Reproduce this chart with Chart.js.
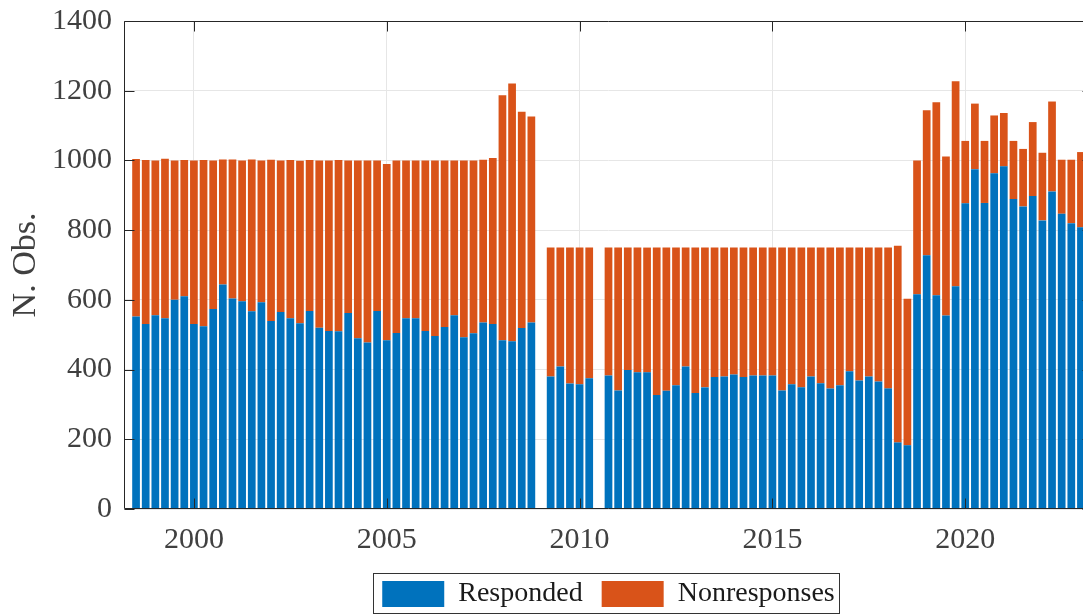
<!DOCTYPE html>
<html>
<head>
<meta charset="utf-8">
<script src="https://cdn.jsdelivr.net/npm/chart.js@4/dist/chart.umd.min.js"></script>
<style>
  html, body { margin: 0; padding: 0; overflow: hidden; background: #ffffff; }
  #wrap { width: 1093px; height: 618px; position: relative; }
</style>
</head>
<body>
<div id="wrap"><canvas id="c"></canvas></div>
<script>
// ---------------- data ----------------
const quarters = [
  '1998Q3','1998Q4',
  '1999Q1','1999Q2','1999Q3','1999Q4',
  '2000Q1','2000Q2','2000Q3','2000Q4',
  '2001Q1','2001Q2','2001Q3','2001Q4',
  '2002Q1','2002Q2','2002Q3','2002Q4',
  '2003Q1','2003Q2','2003Q3','2003Q4',
  '2004Q1','2004Q2','2004Q3','2004Q4',
  '2005Q1','2005Q2','2005Q3','2005Q4',
  '2006Q1','2006Q2','2006Q3','2006Q4',
  '2007Q1','2007Q2','2007Q3','2007Q4',
  '2008Q1','2008Q2','2008Q3','2008Q4',
  '2009Q1','2009Q2','2009Q3','2009Q4',
  '2010Q1','2010Q2','2010Q3','2010Q4',
  '2011Q1','2011Q2','2011Q3','2011Q4',
  '2012Q1','2012Q2','2012Q3','2012Q4',
  '2013Q1','2013Q2','2013Q3','2013Q4',
  '2014Q1','2014Q2','2014Q3','2014Q4',
  '2015Q1','2015Q2','2015Q3','2015Q4',
  '2016Q1','2016Q2','2016Q3','2016Q4',
  '2017Q1','2017Q2','2017Q3','2017Q4',
  '2018Q1','2018Q2','2018Q3','2018Q4',
  '2019Q1','2019Q2','2019Q3','2019Q4',
  '2020Q1','2020Q2','2020Q3','2020Q4',
  '2021Q1','2021Q2','2021Q3','2021Q4',
  '2022Q1','2022Q2','2022Q3','2022Q4',
  '2023Q1'
];

const responded = [
  552, 531,
  556, 547, 600, 610,
  531, 524, 574, 644,
  604, 596, 567, 593,
  539, 565, 547, 533,
  568, 520, 511, 510,
  562, 490, 478, 568,
  484, 505, 547, 547,
  511, 496, 522, 556,
  493, 504, 535, 531,
  484, 481, 519, 535,
  null, 380, 409, 360,
  358, 375, null, 383,
  340, 399, 392, 392,
  327, 339, 355, 409,
  333, 349, 379, 380,
  386, 379, 383, 383,
  383, 340, 358, 349,
  380, 361, 346, 355,
  395, 369, 380, 366,
  346, 191, 183, 616,
  728, 613, 555, 639,
  877, 975, 878, 963,
  983, 889, 868, 898,
  828, 911, 847, 820,
  808
];

const nonresponses = [
  452, 470,
  444, 458, 400, 391,
  469, 477, 426, 359,
  399, 404, 436, 407,
  463, 435, 454, 466,
  433, 480, 489, 491,
  438, 510, 522, 432,
  506, 495, 453, 453,
  489, 504, 478, 444,
  507, 496, 467, 476,
  703, 740, 621, 591,
  null, 370, 341, 390,
  392, 375, null, 367,
  410, 351, 358, 358,
  423, 411, 395, 341,
  417, 401, 371, 370,
  364, 371, 367, 367,
  367, 410, 392, 401,
  370, 389, 404, 395,
  355, 381, 370, 384,
  404, 564, 420, 384,
  416, 554, 456, 588,
  179, 188, 178, 166,
  153, 167, 165, 212,
  194, 258, 155, 182,
  216
];

const seriesNames = ['Responded', 'Nonresponses'];
const xTickYears = [2000, 2005, 2010, 2015, 2020];
const yTickValues = [0, 200, 400, 600, 800, 1000, 1200, 1400];
const yTitle = 'N. Obs.';

// ---------------- helpers ----------------
function quarterToYear(q) {
  const parts = q.split('Q');
  return Number(parts[0]) + (Number(parts[1]) - 1) / 4;
}
const xs = quarters.map(quarterToYear);

const FONT = "'Liberation Serif', 'Times New Roman', serif";
const AXIS = '#262626';
const TICKTXT = '#404040';
const GRID = '#e6e6e6';
const BLUE = '#0072BD';
const ORANGE = '#D95319';

// axes box + inward ticks + legend border (MATLAB look)
const boxPlugin = {
  id: 'matlabBox',
  afterDraw(chart) {
    const { ctx, chartArea: a, scales } = chart;
    const xS = scales.x, yS = scales.y;
    const L = Math.round(a.left) + 0.5, R = Math.round(a.right) - 0.5;
    const T = Math.round(a.top) + 0.5, B = Math.round(a.bottom) - 0.5;
    const tl = 10;
    ctx.save();
    ctx.strokeStyle = AXIS;
    ctx.lineWidth = 1;
    ctx.beginPath();
    ctx.moveTo(L, T); ctx.lineTo(R, T); ctx.lineTo(R, B); ctx.lineTo(L, B); ctx.closePath();
    xS.ticks.forEach(t => {
      const px = Math.round(xS.getPixelForValue(t.value)) + 0.5;
      ctx.moveTo(px, B); ctx.lineTo(px, B - tl);
      ctx.moveTo(px, T); ctx.lineTo(px, T + tl);
    });
    yS.ticks.forEach(t => {
      const py = Math.round(yS.getPixelForValue(t.value)) + 0.5;
      ctx.moveTo(L, py); ctx.lineTo(L + tl, py);
      ctx.moveTo(R, py); ctx.lineTo(R - tl, py);
    });
    ctx.stroke();

    // legend frame
    const lg = chart.legend;
    if (lg && lg.legendHitBoxes && lg.legendHitBoxes.length) {
      const hb = lg.legendHitBoxes;
      const left = Math.min(...hb.map(h => h.left));
      const right = Math.max(...hb.map(h => h.left + h.width));
      const top = Math.min(...hb.map(h => h.top));
      const bottom = Math.max(...hb.map(h => h.top + h.height));
      ctx.strokeStyle = '#333333';
      ctx.lineWidth = 1;
      ctx.strokeRect(Math.round(left - 9) + 0.5, Math.round(top - 7) + 0.5,
                     Math.round(right - left + 13), Math.round(bottom - top + 12));
    }
    ctx.restore();
  }
};

const ctx = document.getElementById('c').getContext('2d');
new Chart(ctx, {
  type: 'bar',
  data: {
    datasets: [
      {
        label: seriesNames[0],
        data: xs.map((x, i) => ({ x: x, y: responded[i] })),
        backgroundColor: BLUE,
        borderWidth: 0,
        stack: 'obs',
        barPercentage: 0.8,
        categoryPercentage: 1.0
      },
      {
        label: seriesNames[1],
        data: xs.map((x, i) => ({ x: x, y: nonresponses[i] })),
        backgroundColor: ORANGE,
        borderWidth: 0,
        stack: 'obs',
        barPercentage: 0.8,
        categoryPercentage: 1.0
      }
    ]
  },
  options: {
    responsive: true,
    maintainAspectRatio: false,
    animation: false,
    devicePixelRatio: 1,
    layout: { padding: { top: 21, right: 0, bottom: 0, left: 0 } },
    plugins: {
      legend: {
        position: 'bottom',
        align: 'center',
        fullSize: false,
        labels: {
          font: { family: FONT, size: 28 },
          color: '#1a1a1a',
          boxWidth: 62,
          boxHeight: 26,
          padding: 19
        }
      },
      tooltip: { enabled: false }
    },
    scales: {
      x: {
        type: 'linear',
        min: 1998.1875,
        max: 2023.3125,
        offset: false,
        grid: { offset: false, color: GRID, lineWidth: 1, drawTicks: false },
        border: { display: false },
        ticks: {
          font: { family: FONT, size: 30 },
          color: TICKTXT,
          padding: 13,
          autoSkip: false,
          maxRotation: 0,
          callback: v => String(v)
        },
        afterBuildTicks: s => { s.ticks = xTickYears.map(v => ({ value: v })); },
        afterFit: s => { s.height = 52; }
      },
      y: {
        stacked: true,
        min: 0,
        max: 1400,
        grid: { color: GRID, lineWidth: 1, drawTicks: false },
        border: { display: false },
        ticks: {
          font: { family: FONT, size: 30 },
          color: TICKTXT,
          padding: 12,
          callback: v => String(v)
        },
        afterBuildTicks: s => { s.ticks = yTickValues.map(v => ({ value: v })); },
        afterFit: s => { s.width = 124; s.paddingTop = 0; s.paddingBottom = 0; },
        title: {
          display: true,
          text: yTitle,
          font: { family: FONT, size: 34 },
          color: TICKTXT,
          padding: { top: 6, bottom: 0 }
        }
      }
    }
  },
  plugins: [boxPlugin]
});
</script>
</body>
</html>
